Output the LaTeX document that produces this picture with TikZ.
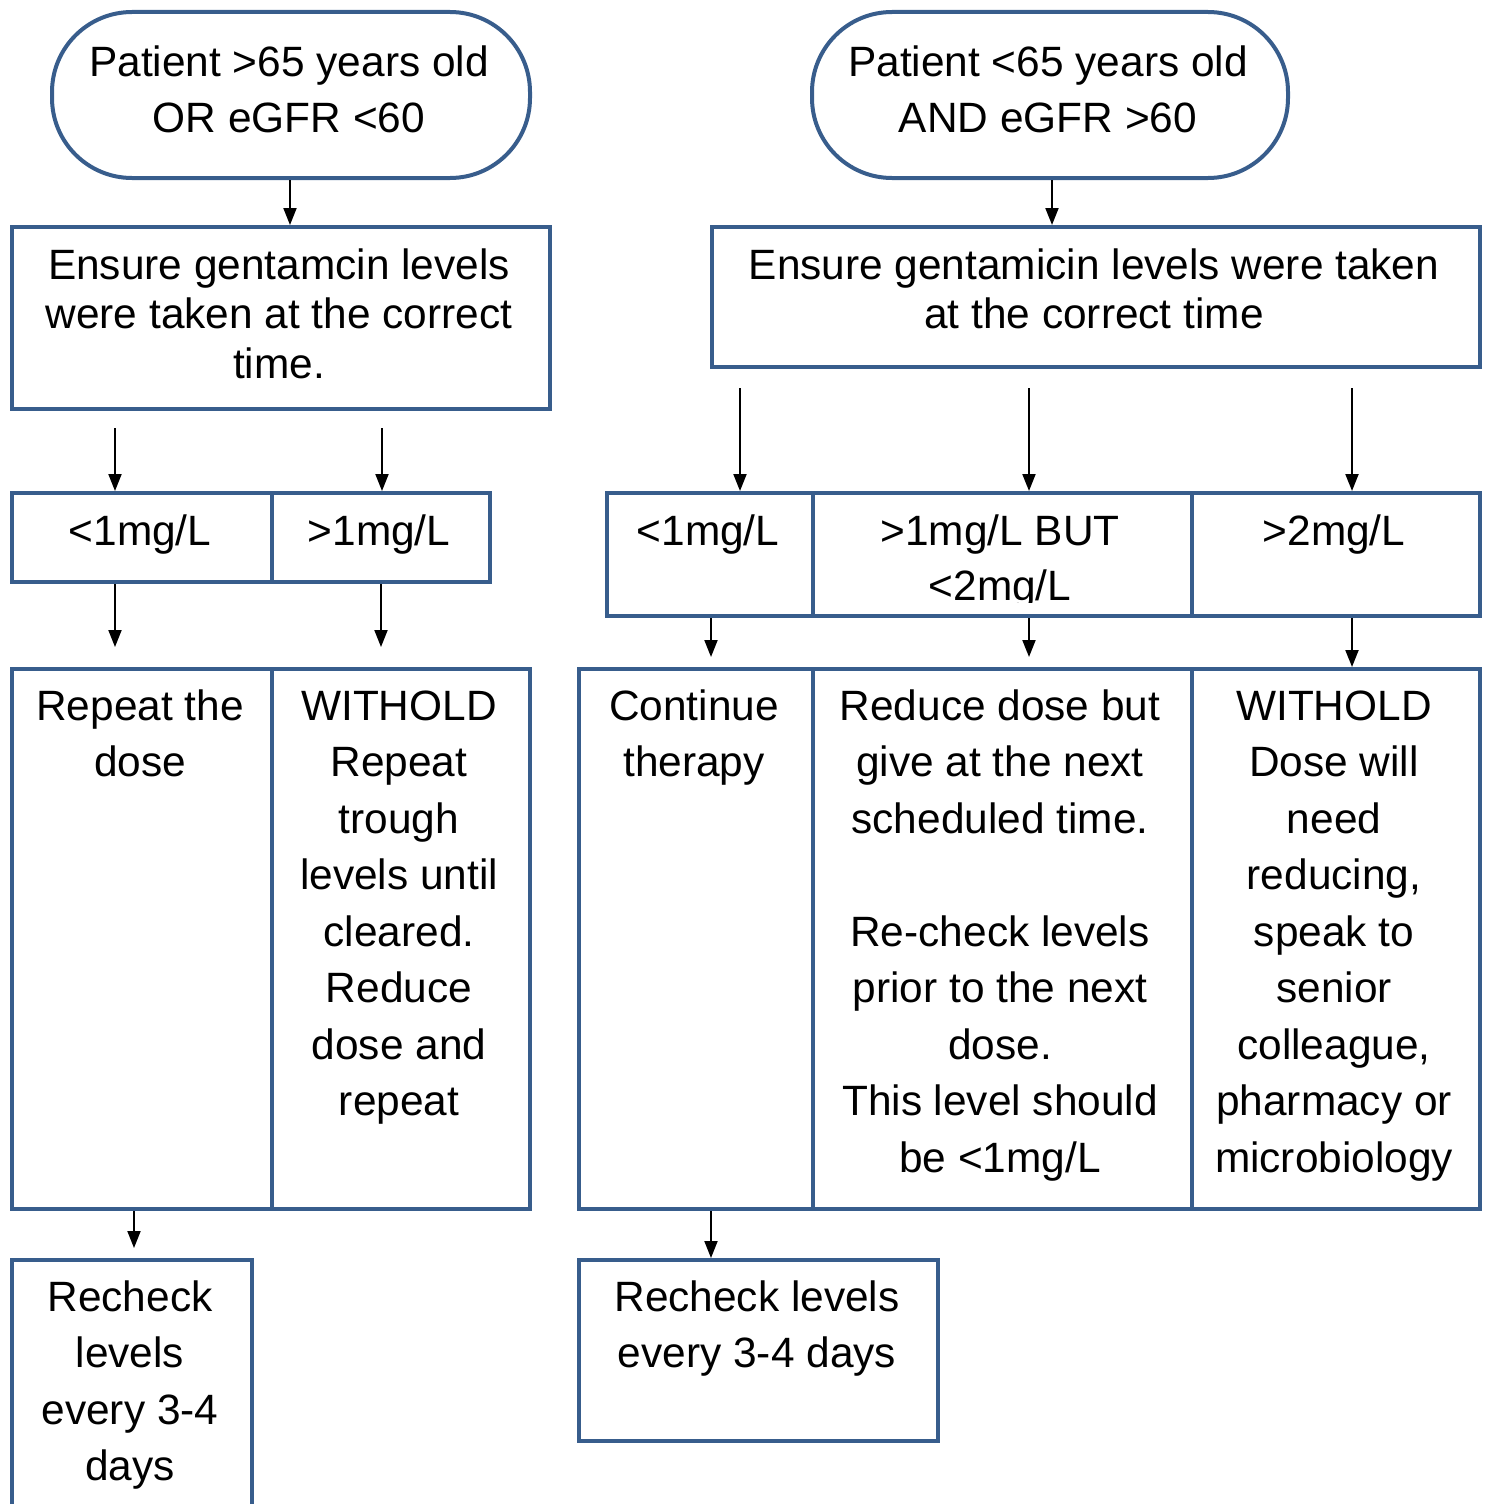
\documentclass[tikz,border=0pt]{standalone}
\usepackage{fontspec}
\setmainfont{Liberation Sans}
\usetikzlibrary{arrows.meta,calc}
\definecolor{bord}{RGB}{56,93,140}
\begin{document}
\begin{tikzpicture}[x=1pt,y=-1pt,
  box/.style={draw=bord,line width=4pt,rectangle,inner sep=0pt,anchor=north west},
  oval/.style={box,rounded corners=80pt},
  txt/.style={anchor=base,align=center,inner sep=0pt,font=\fontsize{42.4}{56.5}\selectfont},
  txtb/.style={txt,font=\fontsize{42.4}{49.5}\selectfont},
  arr/.style={-{Triangle[length=17pt,width=13pt]},line width=2pt,black}]
\useasboundingbox (0,0) rectangle (1485,1504);
% (text nodes are placed at the baseline of their last line)
% top ovals
\node[oval,minimum width=478pt,minimum height=166pt] (o1) at (50,10) {};
\node[oval,minimum width=476pt,minimum height=166pt] (o2) at (810,10) {};
\node[txt] (to1) at (289,132.5) {Patient >65 years old\\OR eGFR <60};
\node[txt] (to2) at (1048,132.5) {Patient <65 years old\\AND eGFR >60};
% ensure boxes
\node[box,minimum width=538pt,minimum height=182pt] (b1) at (10,225) {};
\node[box,minimum width=768pt,minimum height=140pt] (b2) at (710,225) {};
\node[txtb] (tb1) at (279,378) {Ensure gentamcin levels\\were taken at the correct\\time.};
\node[txtb] (tb2) at (1094,328.5) {Ensure gentamicin levels were taken\\at the correct time};
% level boxes
\node[box,minimum width=260pt,minimum height=89pt] (c1) at (10,491) {};
\node[box,minimum width=218pt,minimum height=89pt] (c2) at (270,491) {};
\node[box,minimum width=206pt,minimum height=123pt] (d1) at (605,491) {};
\node[box,minimum width=379pt,minimum height=123pt] (d2) at (811,491) {};
\node[box,minimum width=288pt,minimum height=123pt] (d3) at (1190,491) {};
\node[txt] (tc1) at (140,545) {<1mg/L};
\node[txt] (tc2) at (379,545) {>1mg/L};
\node[txt] (td1) at (708,545) {<1mg/L};
\begin{scope}
\clip (813,493) rectangle (1188,602);
\node[txt,font=\fontsize{42.4}{55}\selectfont] (td2) at (1000,600) {>1mg/L BUT\\<2mg/L};
\end{scope}
\node[txt] (td3) at (1334,545) {>2mg/L};
% action boxes
\node[box,minimum width=260pt,minimum height=540pt] (e1) at (10,667) {};
\node[box,minimum width=258pt,minimum height=540pt] (e2) at (270,667) {};
\node[box,minimum width=234pt,minimum height=540pt] (f1) at (577,667) {};
\node[box,minimum width=379pt,minimum height=540pt] (f2) at (811,667) {};
\node[box,minimum width=288pt,minimum height=540pt] (f3) at (1190,667) {};
\node[txt] (te1) at (140,776.5) {Repeat the\\dose};
\node[txt] (te2) at (399,1115.5) {WITHOLD\\Repeat\\trough\\levels until\\cleared.\\Reduce\\dose and\\repeat};
\node[txt] (tf1) at (694,776.5) {Continue\\therapy};
\node[txt] (tf2) at (1000,1172) {Reduce dose but\\give at the next\\scheduled time.\\\mbox{}\\Re-check levels\\prior to the next\\dose.\\This level should\\be <1mg/L};
\node[txt] (tf3) at (1334,1172) {WITHOLD\\Dose will\\need\\reducing,\\speak to\\senior\\colleague,\\pharmacy or\\microbiology};
% recheck boxes
\node[box,minimum width=240pt,minimum height=290pt] (g1) at (10,1258) {};
\node[box,minimum width=359pt,minimum height=181pt] (g2) at (577,1258) {};
\node[txt] (tg1) at (130,1480.5) {Recheck\\levels\\every 3-4\\days};
\node[txt] (tg2) at (757,1367.5) {Recheck levels\\every 3-4 days};
% arrow coordinates
\coordinate (a1) at (290,0);
\coordinate (a2) at (1052,0);
\coordinate (s1) at (115,428);
\coordinate (s2) at (382,428);
\coordinate (s3) at (740,388);
\coordinate (s4) at (1029,388);
\coordinate (s5) at (1352,388);
\coordinate (u1) at (115,647);
\coordinate (u2) at (381,647);
\coordinate (u3) at (711,657);
\coordinate (u4) at (1029,657);
\coordinate (u5) at (1352,0);
\coordinate (v1) at (134,1248);
\coordinate (v2) at (711,0);
% arrows
\draw[arr] (a1 |- o1.south) -- (a1 |- b1.north);
\draw[arr] (a2 |- o2.south) -- (a2 |- b2.north);
\draw[arr] (s1) -- (s1 |- c1.north);
\draw[arr] (s2) -- (s2 |- c2.north);
\draw[arr] (s3) -- (s3 |- d1.north);
\draw[arr] (s4) -- (s4 |- d2.north);
\draw[arr] (s5) -- (s5 |- d3.north);
\draw[arr] (u1 |- c1.south) -- (u1);
\draw[arr] (u2 |- c2.south) -- (u2);
\draw[arr] (u3 |- d1.south) -- (u3);
\draw[arr] (u4 |- d2.south) -- (u4);
\draw[arr] (u5 |- d3.south) -- (u5 |- f3.north);
\draw[arr] (v1 |- e1.south) -- (v1);
\draw[arr] (v2 |- f1.south) -- (v2 |- g2.north);
\end{tikzpicture}
\end{document}
